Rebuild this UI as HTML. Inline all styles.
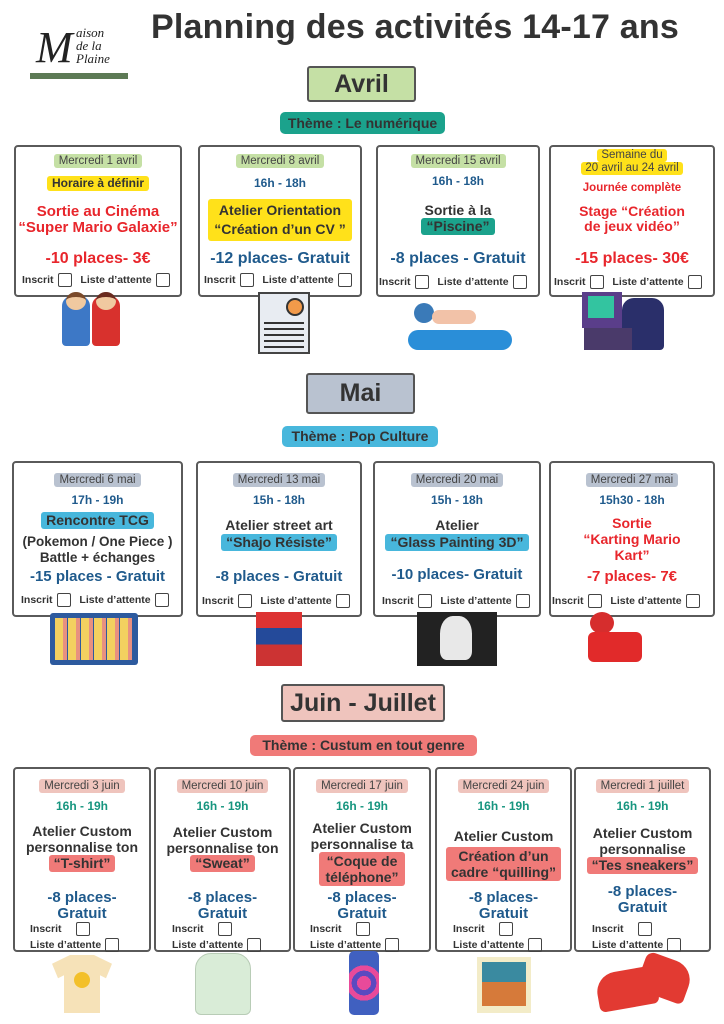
<!DOCTYPE html>
<html><head><meta charset="utf-8">
<style>
*{margin:0;padding:0;box-sizing:border-box}
body{width:724px;height:1024px;background:#fff;position:relative;overflow:hidden;font-family:"Liberation Sans","DejaVu Sans",sans-serif;color:#333}
.a{position:absolute}
.card{position:absolute;border:2px solid #5a5a5a;border-radius:4px;background:#fff}
.t{position:absolute;left:0;right:0;text-align:center;white-space:nowrap;font-weight:bold;line-height:1.05}
.p{display:inline-block;padding:1px 5px;border-radius:3px}
.d{font-weight:normal;font-size:11.5px;color:#444}
.g{background:#c5e0a5}.gy{background:#b9c2d0}.pk{background:#efc4bd}
.y{background:#ffe11a}.tl{background:#1ba28c}.bl{background:#48b7dc}.rd{background:#f07a78}
.red{color:#e8262c}.blu{color:#1f5a8c}.grn{color:#17957f}
.chk{position:absolute;font-size:10.5px;font-weight:bold;color:#333;white-space:nowrap}
.bx{display:inline-block;width:14px;height:14px;border:1.5px solid #444;border-radius:2px;vertical-align:middle;margin:0 6px 0 4px}
.hd{position:absolute;border:2px solid #555;border-radius:3px;text-align:center;font-weight:bold;color:#333}
.th{position:absolute;border-radius:5px;text-align:center;font-weight:bold;font-size:14px;color:#333}
</style></head><body>
<!-- logo -->
<div class="a" style="left:36px;top:26px;width:92px;height:50px">
<div class="a" style="left:0;top:0;font-family:'Liberation Serif',serif;font-size:44px;font-style:italic;line-height:44px;color:#222">M</div>
<div class="a" style="left:40px;top:0;font-family:'Liberation Serif',serif;font-size:13px;font-style:italic;color:#222;line-height:13px">aison<br>de la<br>Plaine</div>
<div class="a" style="left:-6px;top:47px;width:98px;height:6px;background:#5d7a55"></div>
</div>
<div class="a" style="left:151px;top:8px;font-size:34px;font-weight:bold;color:#333;letter-spacing:0.2px;white-space:nowrap">Planning des activités 14-17 ans</div>

<!-- AVRIL -->
<div class="hd g" style="left:307px;top:66px;width:109px;height:36px;font-size:25px;line-height:32px">Avril</div>
<div class="th tl" style="left:280px;top:112px;width:165px;height:22px;line-height:22px">Thème : Le numérique</div>

<div class="card" style="left:14px;top:145px;width:168px;height:152px">
<div class="t" style="top:5px"><span class="p d g">Mercredi 1 avril</span></div>
<div class="t" style="top:29px;font-size:12px"><span class="p y">Horaire à définir</span></div>
<div class="t red" style="top:57px;font-size:15px">Sortie au Cinéma<br>“Super Mario Galaxie”</div>
<div class="t red" style="top:104px;font-size:16px">-10 places- 3€</div>
<div class="chk" style="left:6px;top:126px">Inscrit<span class="bx"></span> Liste d’attente<span class="bx"></span></div>
</div>
<div class="card" style="left:198px;top:145px;width:164px;height:152px">
<div class="t" style="top:5px"><span class="p d g">Mercredi 8 avril</span></div>
<div class="t blu" style="top:30px;font-size:12px">16h - 18h</div>
<div class="t" style="top:52px;font-size:14px"><span class="p y" style="padding:2px 6px;line-height:19px">Atelier Orientation<br>“Création d’un CV ”</span></div>
<div class="t blu" style="top:104px;font-size:16px">-12 places- Gratuit</div>
<div class="chk" style="left:4px;top:126px">Inscrit<span class="bx"></span> Liste d’attente<span class="bx"></span></div>
</div>
<div class="card" style="left:376px;top:145px;width:164px;height:152px">
<div class="t" style="top:5px"><span class="p d g">Mercredi 15 avril</span></div>
<div class="t blu" style="top:28px;font-size:12px">16h - 18h</div>
<div class="t" style="top:56px;font-size:14px">Sortie à la</div>
<div class="t" style="top:71px;font-size:14px"><span class="p tl">“Piscine”</span></div>
<div class="t blu" style="top:104px;font-size:16px">-8 places - Gratuit</div>
<div class="chk" style="left:1px;top:128px">Inscrit<span class="bx"></span> Liste d’attente<span class="bx"></span></div>
</div>
<div class="card" style="left:549px;top:145px;width:166px;height:152px">
<div class="t d" style="top:2px;line-height:13px"><span class="p y" style="padding:0 4px">Semaine du</span><br><span class="p y" style="padding:0 4px">20 avril au 24 avril</span></div>
<div class="t red" style="top:35px;font-size:11.5px">Journée complète</div>
<div class="t red" style="top:57px;font-size:14px">Stage “Création<br>de jeux vidéo”</div>
<div class="t red" style="top:104px;font-size:16px">-15 places- 30€</div>
<div class="chk" style="left:3px;top:128px">Inscrit<span class="bx"></span> Liste d’attente<span class="bx"></span></div>
</div>
<!-- avril images -->
<div class="a" style="left:62px;top:296px;width:28px;height:50px;background:#3d78c6;border-radius:10px 10px 4px 4px"></div>
<div class="a" style="left:92px;top:296px;width:28px;height:50px;background:#d8312d;border-radius:10px 10px 4px 4px"></div>
<div class="a" style="left:66px;top:292px;width:20px;height:18px;background:#f0c9a0;border-radius:50%;border-top:5px solid #7b4a2a"></div>
<div class="a" style="left:96px;top:292px;width:20px;height:18px;background:#f0c9a0;border-radius:50%;border-top:5px solid #6a2a1e"></div>
<div class="a" style="left:258px;top:292px;width:52px;height:62px;border:2px solid #444;background:#e8ecf2"></div>
<div class="a" style="left:286px;top:298px;width:18px;height:18px;border-radius:50%;background:#f29a4a;border:2px solid #333"></div>
<div class="a" style="left:264px;top:322px;width:40px;height:26px;background:repeating-linear-gradient(#333 0 2px,transparent 2px 6px)"></div>
<div class="a" style="left:408px;top:330px;width:104px;height:20px;background:#2a8ed8;border-radius:10px"></div>
<div class="a" style="left:414px;top:303px;width:20px;height:20px;border-radius:50%;background:#3a7ab8"></div>
<div class="a" style="left:432px;top:310px;width:44px;height:14px;background:#f2c2a8;border-radius:7px"></div>
<div class="a" style="left:582px;top:292px;width:40px;height:36px;background:#5a3e8a"></div>
<div class="a" style="left:588px;top:296px;width:26px;height:22px;background:#33c4a0"></div>
<div class="a" style="left:622px;top:298px;width:42px;height:52px;background:#2a2f6a;border-radius:12px 12px 4px 4px"></div>
<div class="a" style="left:584px;top:328px;width:48px;height:22px;background:#4a3a6a"></div>

<!-- MAI -->
<div class="hd gy" style="left:306px;top:373px;width:109px;height:41px;font-size:25px;line-height:37px">Mai</div>
<div class="th bl" style="left:282px;top:426px;width:156px;height:21px;line-height:21px">Thème : Pop Culture</div>

<div class="card" style="left:12px;top:461px;width:171px;height:156px">
<div class="t" style="top:8px"><span class="p d gy">Mercredi 6 mai</span></div>
<div class="t blu" style="top:31px;font-size:12px">17h - 19h</div>
<div class="t" style="top:49px;font-size:14px"><span class="p bl">Rencontre TCG</span></div>
<div class="t" style="top:71px;font-size:13.5px;line-height:16px">(Pokemon / One Piece )<br>Battle + échanges</div>
<div class="t blu" style="top:106px;font-size:15px">-15 places - Gratuit</div>
<div class="chk" style="left:7px;top:130px">Inscrit<span class="bx"></span> Liste d’attente<span class="bx"></span></div>
</div>
<div class="card" style="left:196px;top:461px;width:166px;height:156px">
<div class="t" style="top:8px"><span class="p d gy">Mercredi 13 mai</span></div>
<div class="t blu" style="top:31px;font-size:12px">15h - 18h</div>
<div class="t" style="top:55px;font-size:14px">Atelier street art</div>
<div class="t" style="top:71px;font-size:14px"><span class="p bl">“Shajo Résiste”</span></div>
<div class="t blu" style="top:106px;font-size:15px">-8 places - Gratuit</div>
<div class="chk" style="left:4px;top:131px">Inscrit<span class="bx"></span> Liste d’attente<span class="bx"></span></div>
</div>
<div class="card" style="left:373px;top:461px;width:168px;height:156px">
<div class="t" style="top:8px"><span class="p d gy">Mercredi 20 mai</span></div>
<div class="t blu" style="top:31px;font-size:12px">15h - 18h</div>
<div class="t" style="top:55px;font-size:14px">Atelier</div>
<div class="t" style="top:71px;font-size:14px"><span class="p bl">“Glass Painting 3D”</span></div>
<div class="t blu" style="top:104px;font-size:15px">-10 places- Gratuit</div>
<div class="chk" style="left:7px;top:131px">Inscrit<span class="bx"></span> Liste d’attente<span class="bx"></span></div>
</div>
<div class="card" style="left:549px;top:461px;width:166px;height:156px">
<div class="t" style="top:8px"><span class="p d gy">Mercredi 27 mai</span></div>
<div class="t blu" style="top:31px;font-size:12px">15h30 - 18h</div>
<div class="t red" style="top:52px;font-size:14px;line-height:16px">Sortie<br>“Karting Mario<br>Kart”</div>
<div class="t red" style="top:106px;font-size:15px">-7 places- 7€</div>
<div class="chk" style="left:1px;top:131px">Inscrit<span class="bx"></span> Liste d’attente<span class="bx"></span></div>
</div>
<!-- mai images -->
<div class="a" style="left:50px;top:613px;width:88px;height:52px;background:#2d5a9e;border-radius:3px"></div>
<div class="a" style="left:55px;top:618px;width:78px;height:42px;background:repeating-linear-gradient(90deg,#f3d060 0 8px,#e89080 8px 12px,#2d5a9e 12px 13px)"></div>
<div class="a" style="left:256px;top:612px;width:46px;height:54px;background:linear-gradient(#d33 0 30%,#244a9a 30% 60%,#c33 60%)"></div>
<div class="a" style="left:417px;top:612px;width:80px;height:54px;background:#222"></div>
<div class="a" style="left:440px;top:616px;width:32px;height:44px;background:#e8e8e8;border-radius:40% 40% 20% 20%"></div>
<div class="a" style="left:590px;top:612px;width:24px;height:22px;background:#d62d2d;border-radius:50%"></div>
<div class="a" style="left:588px;top:632px;width:54px;height:30px;background:#e12a2a;border-radius:6px"></div>

<!-- JUIN -->
<div class="hd pk" style="left:281px;top:684px;width:164px;height:38px;font-size:25px;line-height:34px">Juin - Juillet</div>
<div class="th rd" style="left:250px;top:735px;width:227px;height:21px;line-height:21px">Thème : Custum en tout genre</div>

<div class="card" style="left:13px;top:767px;width:138px;height:185px">
<div class="t" style="top:8px"><span class="p d pk">Mercredi 3 juin</span></div>
<div class="t grn" style="top:31px;font-size:12px">16h - 19h</div>
<div class="t" style="top:54px;font-size:14px;line-height:16px">Atelier Custom<br>personnalise ton</div>
<div class="t" style="top:86px;font-size:14px"><span class="p rd">“T-shirt”</span></div>
<div class="t blu" style="top:121px;font-size:15px;line-height:16px">-8 places-<br>Gratuit</div>
<div class="chk" style="left:15px;top:153px">Inscrit<span class="bx" style="margin-left:14px"></span></div>
<div class="chk" style="left:15px;top:169px">Liste d’attente<span class="bx"></span></div>
</div>
<div class="card" style="left:154px;top:767px;width:137px;height:185px">
<div class="t" style="top:8px"><span class="p d pk">Mercredi 10 juin</span></div>
<div class="t grn" style="top:31px;font-size:12px">16h - 19h</div>
<div class="t" style="top:55px;font-size:14px;line-height:16px">Atelier Custom<br>personnalise ton</div>
<div class="t" style="top:86px;font-size:14px"><span class="p rd">“Sweat”</span></div>
<div class="t blu" style="top:121px;font-size:15px;line-height:16px">-8 places-<br>Gratuit</div>
<div class="chk" style="left:16px;top:153px">Inscrit<span class="bx" style="margin-left:14px"></span></div>
<div class="chk" style="left:16px;top:169px">Liste d’attente<span class="bx"></span></div>
</div>
<div class="card" style="left:293px;top:767px;width:138px;height:185px">
<div class="t" style="top:8px"><span class="p d pk">Mercredi 17 juin</span></div>
<div class="t grn" style="top:31px;font-size:12px">16h - 19h</div>
<div class="t" style="top:51px;font-size:14px;line-height:16px">Atelier Custom<br>personnalise ta</div>
<div class="t" style="top:83px;font-size:14px"><span class="p rd" style="line-height:16px;padding:1px 6px">“Coque de<br>téléphone”</span></div>
<div class="t blu" style="top:121px;font-size:15px;line-height:16px">-8 places-<br>Gratuit</div>
<div class="chk" style="left:15px;top:153px">Inscrit<span class="bx" style="margin-left:14px"></span></div>
<div class="chk" style="left:15px;top:169px">Liste d’attente<span class="bx"></span></div>
</div>
<div class="card" style="left:435px;top:767px;width:137px;height:185px">
<div class="t" style="top:8px"><span class="p d pk">Mercredi 24 juin</span></div>
<div class="t grn" style="top:31px;font-size:12px">16h - 19h</div>
<div class="t" style="top:60px;font-size:14px">Atelier Custom</div>
<div class="t" style="top:78px;font-size:14px"><span class="p rd" style="line-height:16px;padding:1px 5px">Création d’un<br>cadre “quilling”</span></div>
<div class="t blu" style="top:121px;font-size:15px;line-height:16px">-8 places-<br>Gratuit</div>
<div class="chk" style="left:16px;top:153px">Inscrit<span class="bx" style="margin-left:14px"></span></div>
<div class="chk" style="left:16px;top:169px">Liste d’attente<span class="bx"></span></div>
</div>
<div class="card" style="left:574px;top:767px;width:137px;height:185px">
<div class="t" style="top:8px"><span class="p d pk">Mercredi 1 juillet</span></div>
<div class="t grn" style="top:31px;font-size:12px">16h - 19h</div>
<div class="t" style="top:56px;font-size:14px;line-height:16px">Atelier Custom<br>personnalise</div>
<div class="t" style="top:88px;font-size:14px"><span class="p rd">“Tes sneakers”</span></div>
<div class="t blu" style="top:115px;font-size:15px;line-height:16px">-8 places-<br>Gratuit</div>
<div class="chk" style="left:16px;top:153px">Inscrit<span class="bx" style="margin-left:14px"></span></div>
<div class="chk" style="left:16px;top:169px">Liste d’attente<span class="bx"></span></div>
</div>
<!-- juin images -->
<div class="a" style="left:52px;top:955px;width:60px;height:58px;background:#f6e2b8;border-radius:10px 10px 2px 2px;clip-path:polygon(0 15%,30% 0,70% 0,100% 15%,90% 40%,80% 35%,80% 100%,20% 100%,20% 35%,10% 40%)"></div>
<div class="a" style="left:74px;top:972px;width:16px;height:16px;background:#f3c02a;border-radius:50%"></div>
<div class="a" style="left:195px;top:953px;width:56px;height:62px;background:#d9ecd7;border:1px solid #b8ccb6;border-radius:16px 16px 6px 6px"></div>
<div class="a" style="left:349px;top:951px;width:30px;height:64px;background:radial-gradient(circle,#e84a9a 0 20%,#5a4ac0 20% 35%,#e84a9a 35% 50%,#4060c0 50%);border-radius:5px"></div>
<div class="a" style="left:477px;top:957px;width:54px;height:56px;background:#f3ecc8"></div>
<div class="a" style="left:482px;top:962px;width:44px;height:44px;background:linear-gradient(#3a8aa0 0 45%,#d67a3a 45%)"></div>
<div class="a" style="left:597px;top:970px;width:60px;height:38px;background:#e23a32;border-radius:20px 8px 6px 6px;transform:rotate(-10deg)"></div>
<div class="a" style="left:640px;top:958px;width:50px;height:40px;background:#e23a32;border-radius:8px 20px 6px 6px;transform:rotate(20deg)"></div>
</body></html>
